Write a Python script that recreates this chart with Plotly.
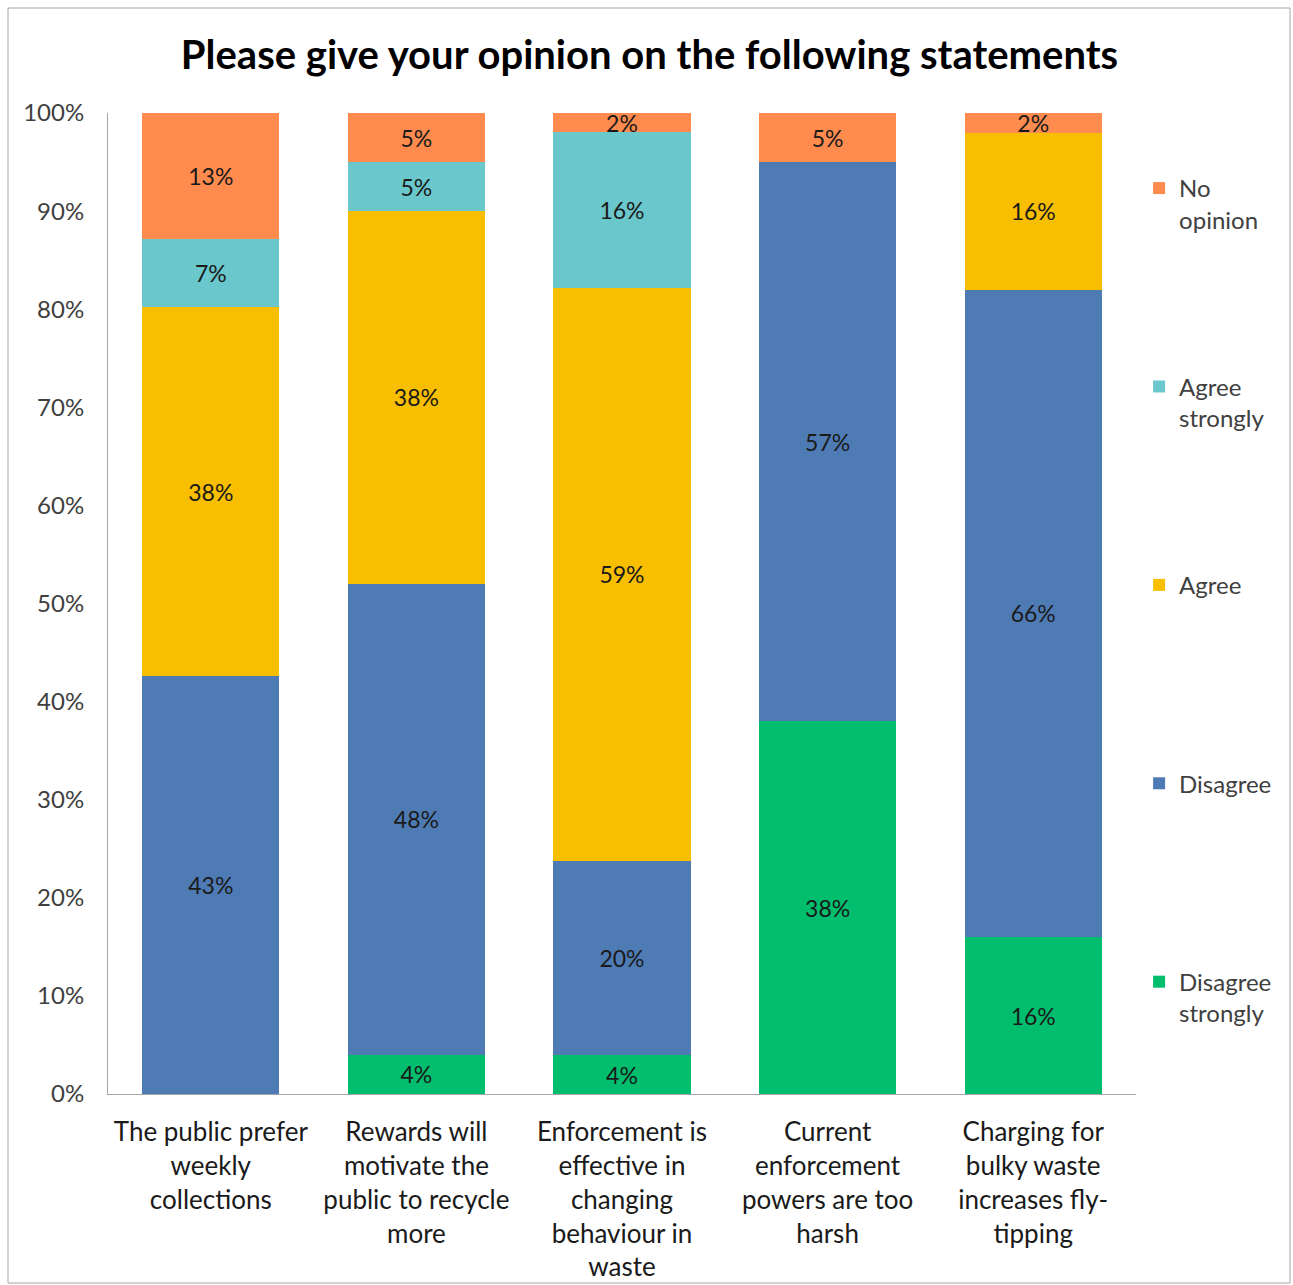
import plotly.graph_objects as go

# Survey statements (x-axis categories, wrapped as in the chart)
statements = [
    "The public prefer<br>weekly<br>collections",
    "Rewards will<br>motivate the<br>public to recycle<br>more",
    "Enforcement is<br>effective in<br>changing<br>behaviour in<br>waste",
    "Current<br>enforcement<br>powers are too<br>harsh",
    "Charging for<br>bulky waste<br>increases fly-<br>tipping",
]

# Response shares (%) per statement; None = no responses in that group
disagree_strongly = [None, 4, 4, 38, 16]
disagree = [43, 48, 20, 57, 66]
agree = [38, 38, 59, None, 16]
agree_strongly = [7, 5, 16, None, None]
no_opinion = [13, 5, 2, 5, 2]

# (legend label, values, colour, legend rank) from the bottom of the stack up
series = [
    ("Disagree<br>strongly", disagree_strongly, "#00BE6E", 5),
    ("Disagree<br> ", disagree, "#4F7BB5", 4),
    ("Agree<br> ", agree, "#F8BE00", 3),
    ("Agree<br>strongly", agree_strongly, "#6AC7CB", 2),
    ("No<br>opinion", no_opinion, "#FF8B4F", 1),
]

FONT = "Lato"

fig = go.Figure()
for name, vals, color, rank in series:
    fig.add_trace(go.Bar(
        x=statements,
        y=vals,
        name=name,
        legendgroup=name,
        legendrank=rank,
        marker=dict(color=color, line=dict(width=0)),
        text=[f"{v}%" if v is not None else "" for v in vals],
        texttemplate="%{text}",
        textposition="inside",
        insidetextanchor="middle",
        constraintext="none",
        textangle=0,
        textfont=dict(family=FONT, size=23, color="#1a1a1a"),
        hoverinfo="skip",
    ))

fig.update_layout(
    width=1293,
    height=1285,
    barmode="stack",
    barnorm="percent",
    bargap=0.333,
    paper_bgcolor="white",
    plot_bgcolor="white",
    margin=dict(l=108, r=157, t=113, b=191, autoexpand=False),
    font=dict(family=FONT, color="#404040"),
    title=dict(
        text="<b>Please give your opinion on the following statements</b>",
        font=dict(family=FONT, size=40, color="black"),
        x=649.5 / 1293,
        xanchor="center",
        y=1 - 55 / 1285,
        yanchor="middle",
    ),
    showlegend=True,
    legend=dict(
        traceorder="grouped",
        tracegroupgap=133,
        valign="top",
        x=1.003,
        xanchor="left",
        y=0.946,
        yanchor="top",
        font=dict(family=FONT, size=24, color="#404040"),
        bgcolor="rgba(0,0,0,0)",
    ),
    yaxis=dict(
        range=[0, 100],
        dtick=10,
        ticksuffix="%",
        showgrid=False,
        zeroline=False,
        showline=True,
        linecolor="#A6A6A6",
        linewidth=1,
        ticks="",
        ticklabelstandoff=18,
        automargin=False,
        tickfont=dict(family=FONT, size=24, color="#404040"),
    ),
    xaxis=dict(
        showgrid=False,
        showline=True,
        linecolor="#A6A6A6",
        linewidth=1,
        ticks="",
        ticklabelstandoff=15,
        automargin=False,
        tickfont=dict(family=FONT, size=26, color="#1a1a1a"),
    ),
    shapes=[
        dict(
            type="rect",
            xref="paper", yref="paper",
            x0=(8 - 108) / 1028, x1=(1290 - 108) / 1028,
            y0=(1094 - 1283) / 981, y1=(1094 - 8) / 981,
            line=dict(color="#A6A6A6", width=1),
            fillcolor="rgba(0,0,0,0)",
            layer="below",
        )
    ],
)

fig.write_html("out.html")
